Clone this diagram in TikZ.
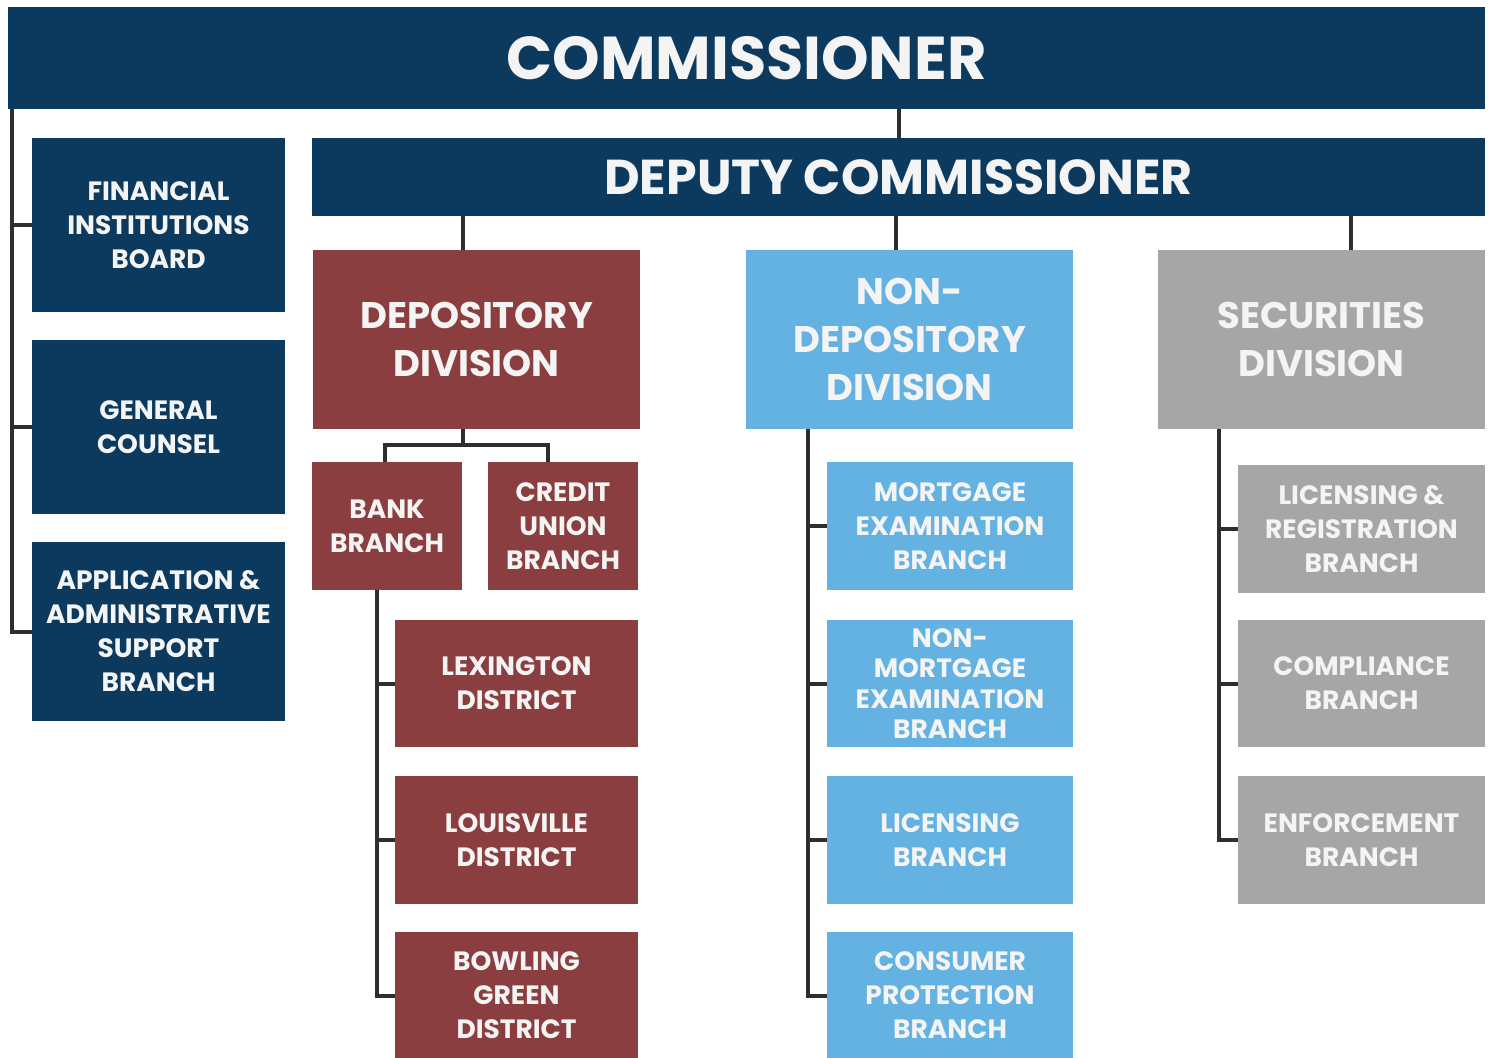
\documentclass[tikz,border=0pt]{standalone}
\usepackage{fontspec}
\setmainfont{Poppins}
\definecolor{navy}{HTML}{0B3A5E}
\definecolor{maroon}{HTML}{8B3E3F}
\definecolor{sky}{HTML}{63B2E1}
\definecolor{slate}{HTML}{A6A6A6}
\definecolor{wire}{HTML}{2E2E2E}
\definecolor{ink}{HTML}{F4F4F4}
\tikzset{
  unit/.style 2 args={rectangle, inner sep=0pt, minimum width=#1pt, minimum height=#2pt,
    text=ink, font=\bfseries, align=center},
  navybox/.style={fill=navy},
  redbox/.style={fill=maroon},
  bluebox/.style={fill=sky},
  greybox/.style={fill=slate},
  big/.style={font=\fontsize{60.5}{62}\selectfont\bfseries},
  mid/.style={font=\fontsize{49}{52}\selectfont\bfseries},
  divtext/.style={font=\fontsize{37}{48}\selectfont\bfseries},
  small/.style={font=\fontsize{26.5}{34}\selectfont\bfseries},
  conn/.style={draw=wire, line width=4pt},
}
\begin{document}
\begin{tikzpicture}[x=1pt, y=-1pt]
\useasboundingbox (0,0) rectangle (1493,1057);
\clip (0,0) rectangle (1493,1057);
\fill[white] (0,0) rectangle (1493,1057);

% top level
\node[unit={1477}{102}, navybox, big] (comm) at (746.5,58) {COMMISSIONER};
\node[unit={1173}{78}, navybox, mid] (dep) at (898.5,177) {DEPUTY COMMISSIONER};

% staff offices on the left
\node[unit={253}{174}, navybox, small] (fib) at (158.5,225) {FINANCIAL\\INSTITUTIONS\\BOARD};
\node[unit={253}{174}, navybox, small] (gc) at (158.5,427) {GENERAL\\COUNSEL};
\node[unit={253}{179}, navybox, small] (app) at (158.5,631.5) {APPLICATION \&\\ADMINISTRATIVE\\SUPPORT\\BRANCH};

% divisions
\node[unit={327}{179}, redbox, divtext] (depo) at (476.5,339.5) {DEPOSITORY\\DIVISION};
\node[unit={327}{179}, bluebox, divtext] (ndep) at (909.5,339.5) {NON-\\DEPOSITORY\\DIVISION};
\node[unit={327}{179}, greybox, divtext] (sec) at (1321.5,339.5) {SECURITIES\\DIVISION};

% depository branches
\node[unit={150}{128}, redbox, small] (bank) at (387,526) {BANK\\BRANCH};
\node[unit={150}{128}, redbox, small] (cu) at (563,526) {CREDIT\\UNION\\BRANCH};
\node[unit={243}{127}, redbox, small] (lex) at (516.5,683.5) {LEXINGTON\\DISTRICT};
\node[unit={243}{128}, redbox, small] (lou) at (516.5,840) {LOUISVILLE\\DISTRICT};
\node[unit={243}{127}, redbox, small] (bg) at (516.5,995.5) {BOWLING\\GREEN\\DISTRICT};

% non-depository branches
\node[unit={246}{128}, bluebox, small] (mort) at (950,526) {MORTGAGE\\EXAMINATION\\BRANCH};
\node[unit={246}{127}, bluebox, small, font=\fontsize{26.5}{30.5}\selectfont\bfseries] (nmort) at (950,683.5) {NON-\\MORTGAGE\\EXAMINATION\\BRANCH};
\node[unit={246}{128}, bluebox, small] (lic) at (950,840) {LICENSING\\BRANCH};
\node[unit={246}{127}, bluebox, small] (cons) at (950,995.5) {CONSUMER\\PROTECTION\\BRANCH};

% securities branches
\node[unit={247}{128}, greybox, small] (lr) at (1361.5,529) {LICENSING \&\\REGISTRATION\\BRANCH};
\node[unit={247}{127}, greybox, small] (comp) at (1361.5,683.5) {COMPLIANCE\\BRANCH};
\node[unit={247}{128}, greybox, small] (enf) at (1361.5,840) {ENFORCEMENT\\BRANCH};

% connectors
\coordinate (lt) at (12,0);
\draw[conn] (comm.south -| lt) -- (app.west -| lt) -- (app.west);
\draw[conn] (fib.west -| lt) -- (fib.west);
\draw[conn] (gc.west -| lt) -- (gc.west);

\draw[conn] (comm.south -| dep.north) -- (dep.north);
\coordinate (cd) at (463,0);
\coordinate (cn) at (896,0);
\coordinate (cs) at (1351,0);
\draw[conn] (dep.south -| cd) -- (depo.north -| cd);
\draw[conn] (dep.south -| cn) -- (ndep.north -| cn);
\draw[conn] (dep.south -| cs) -- (sec.north -| cs);

\coordinate (bar) at (0,445);
\coordinate (bx) at (385,0);
\coordinate (cx) at (548,0);
\draw[conn] (depo.south -| cd) -- (bar -| cd);
\draw[conn] (bank.north -| bx) -- (bar -| bx) -- (bar -| cx) -- (cu.north -| cx);

\coordinate (bt) at (377,0);
\draw[conn] (bank.south -| bt) -- (bg.west -| bt) -- (bg.west);
\draw[conn] (lex.west -| bt) -- (lex.west);
\draw[conn] (lou.west -| bt) -- (lou.west);

\coordinate (nt) at (808,0);
\draw[conn] (ndep.south -| nt) -- (cons.west -| nt) -- (cons.west);
\draw[conn] (mort.west -| nt) -- (mort.west);
\draw[conn] (nmort.west -| nt) -- (nmort.west);
\draw[conn] (lic.west -| nt) -- (lic.west);

\coordinate (st) at (1219,0);
\draw[conn] (sec.south -| st) -- (enf.west -| st) -- (enf.west);
\draw[conn] (lr.west -| st) -- (lr.west);
\draw[conn] (comp.west -| st) -- (comp.west);
\end{tikzpicture}
\end{document}
